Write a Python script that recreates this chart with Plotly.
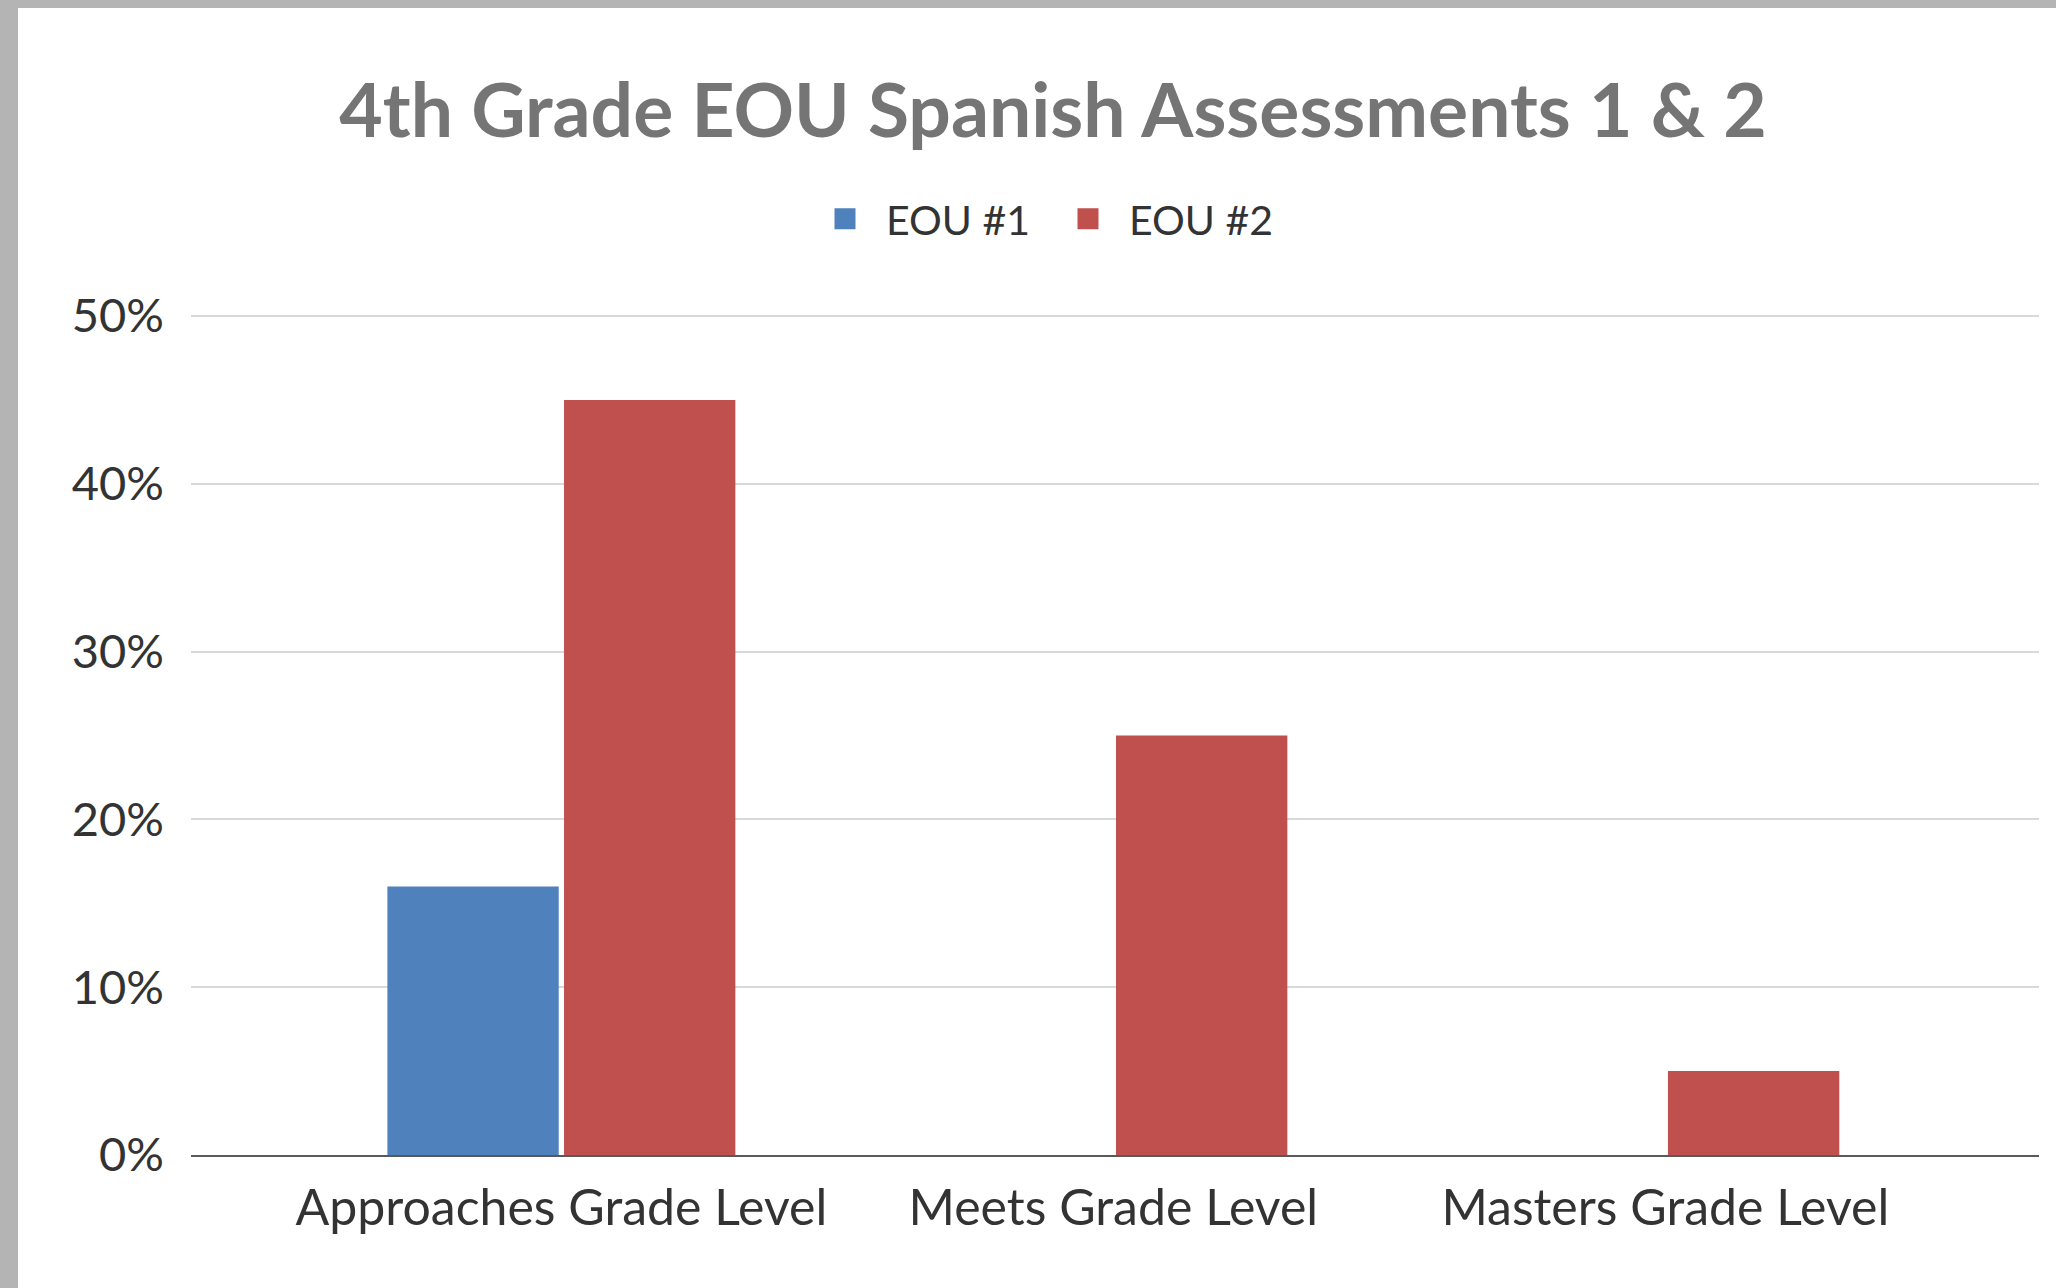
import plotly.graph_objects as go

categories = ['Approaches Grade Level', 'Meets Grade Level', 'Masters Grade Level']
series_names = ['EOU #1', 'EOU #2']
eou1 = [0.16, 0, 0]
eou2 = [0.45, 0.25, 0.05]
colors = ['#4F81BD', '#C0504D']
y_ticks = [0, 0.1, 0.2, 0.3, 0.4, 0.5]

W, H = 2056, 1288
L, R, T, B = 191, 17, 315, 133
pw, ph = W - L - R, H - T - B

FONT = 'Lato, Open Sans, sans-serif'
TEXT = '#333333'
NBSP = '\u00a0'

fig = go.Figure()
for name, vals, col in zip(series_names, [eou1, eou2], colors):
    fig.add_trace(go.Bar(name=name, x=categories, y=vals, marker_color=col,
                         marker_line_width=0, showlegend=False))
    # legend-only entry so the swatch can be drawn larger than the bar icon
    fig.add_trace(go.Scatter(name=NBSP * 2 + name, x=[None], y=[None], mode='markers',
                             marker=dict(symbol='square', size=16, color=col,
                                         line=dict(width=5, color=col))))

# grey frame from the screenshot (left and top edges)
frame = '#B4B4B4'
fig.add_shape(type='rect', xref='paper', yref='paper', layer='above',
              x0=-L / pw, x1=(18 - L) / pw, y0=-B / ph, y1=1 + T / ph,
              fillcolor=frame, line_width=0)
fig.add_shape(type='rect', xref='paper', yref='paper', layer='above',
              x0=-L / pw, x1=(W - L) / pw, y0=1 + (T - 8) / ph, y1=1 + T / ph,
              fillcolor=frame, line_width=0)

fig.update_layout(
    width=W, height=H,
    margin=dict(l=L, r=R, t=T, b=B),
    paper_bgcolor='white', plot_bgcolor='white',
    font=dict(family=FONT, color=TEXT, size=46),
    title=dict(text='<b>4th Grade EOU Spanish Assessments 1 &amp; 2</b>',
               x=1053 / W, xanchor='center', xref='container',
               y=1 - 111 / H, yanchor='middle', yref='container',
               font=dict(family=FONT, size=75, color='#757575')),
    legend=dict(orientation='h', xref='container', yref='container',
                x=825 / W, xanchor='left', y=1 - 219 / H, yanchor='middle',
                font=dict(size=41, color=TEXT), itemwidth=30,
                entrywidth=198, tracegroupgap=0),
    barmode='group', bargap=0.36, bargroupgap=0.03,
    xaxis=dict(range=[-0.671, 2.677], showgrid=False, showline=True,
               linecolor='#595959', linewidth=2, ticks='',
               ticklabelstandoff=8, tickfont=dict(size=50, color=TEXT)),
    yaxis=dict(range=[0, 0.5006], tickvals=y_ticks, tickformat='.0%',
               showgrid=True, gridcolor='#D9D9D9', gridwidth=2,
               zeroline=False, showline=False, ticklabelstandoff=26,
               tickfont=dict(size=47, color=TEXT)),
)

fig.write_html('out.html', config={'displayModeBar': False},
               post_script="document.body.style.margin='0';")
